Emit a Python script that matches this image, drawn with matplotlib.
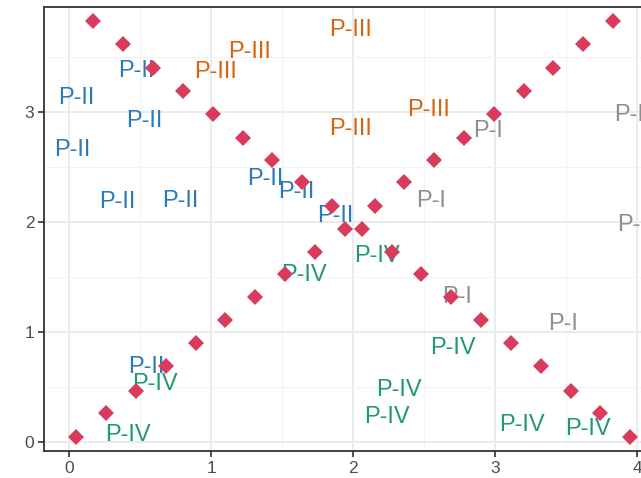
import matplotlib
matplotlib.use("Agg")
import matplotlib.pyplot as plt
from matplotlib.ticker import MultipleLocator

plt.rcParams['font.family'] = ['Liberation Sans', 'DejaVu Sans']

# diamond series
up_x = [0.05, 0.26, 0.47, 0.68, 0.89, 1.10, 1.31, 1.52, 1.73, 1.94,
        2.15, 2.36, 2.57, 2.78, 2.99, 3.20, 3.41, 3.62, 3.83]
up_y = [0.05, 0.27, 0.47, 0.69, 0.90, 1.11, 1.32, 1.53, 1.73, 1.94,
        2.15, 2.37, 2.57, 2.77, 2.98, 3.19, 3.40, 3.62, 3.83]
down_x = [0.17, 0.38, 0.59, 0.80, 1.01, 1.22, 1.43, 1.64, 1.85, 2.06,
          2.27, 2.48, 2.69, 2.90, 3.11, 3.32, 3.53, 3.74, 3.95]
down_y = up_y[::-1]

# labels per group
p1_x = [2.95, 2.55, 3.94, 3.96, 2.73, 3.48]
p1_y = [2.85, 2.22, 3.00, 2.00, 1.34, 1.10]
p2_x = [0.47, 0.05, 0.53, 0.02, 0.34, 0.78, 1.38, 1.60, 1.87, 0.54]
p2_y = [3.40, 3.15, 2.94, 2.68, 2.21, 2.22, 2.42, 2.30, 2.08, 0.71]
p3_x = [1.27, 1.03, 1.98, 2.53, 1.98]
p3_y = [3.57, 3.39, 3.77, 3.04, 2.87]
p4_x = [0.41, 0.60, 1.65, 2.17, 2.70, 2.32, 2.24, 3.19, 3.65]
p4_y = [0.09, 0.55, 1.54, 1.72, 0.88, 0.50, 0.25, 0.18, 0.14]

groups = [
    ("P-I", p1_x, p1_y, "#8f8f8f"),
    ("P-II", p2_x, p2_y, "#2b79b8"),
    ("P-III", p3_x, p3_y, "#d9620c"),
    ("P-IV", p4_x, p4_y, "#1f9a6e"),
]

fig = plt.figure(figsize=(6.41, 4.78), dpi=100)
ax = fig.add_axes([44 / 641, 27 / 478, 616 / 641, 444 / 478])

for label, xs, ys, col in groups:
    for x, y in zip(xs, ys):
        ax.text(x, y, label, color=col, fontsize=17, ha="center",
                va="center_baseline", zorder=3)

ax.plot(up_x, up_y, "D", color="#d93b5c", ms=8, mew=0, zorder=4)
ax.plot(down_x, down_y, "D", color="#d93b5c", ms=8, mew=0, zorder=4)

ax.set_xlim(-0.178, 4.16)
ax.set_ylim(-0.079, 3.957)
ax.xaxis.set_major_locator(MultipleLocator(1))
ax.yaxis.set_major_locator(MultipleLocator(1))
ax.xaxis.set_minor_locator(MultipleLocator(0.5))
ax.yaxis.set_minor_locator(MultipleLocator(0.5))

ax.grid(which="major", color="#ebebeb", lw=1.4, zorder=0)
ax.grid(which="minor", color="#f2f2f2", lw=0.8, zorder=0)
ax.set_axisbelow(True)

for s in ax.spines.values():
    s.set_color("#333333")
    s.set_linewidth(1.3)

ax.tick_params(which="major", length=4, width=1.2, color="#333333",
               labelcolor="#4d4d4d", labelsize=12.5, pad=3)
ax.tick_params(which="minor", length=0)

fig.savefig("out.png", dpi=100)
